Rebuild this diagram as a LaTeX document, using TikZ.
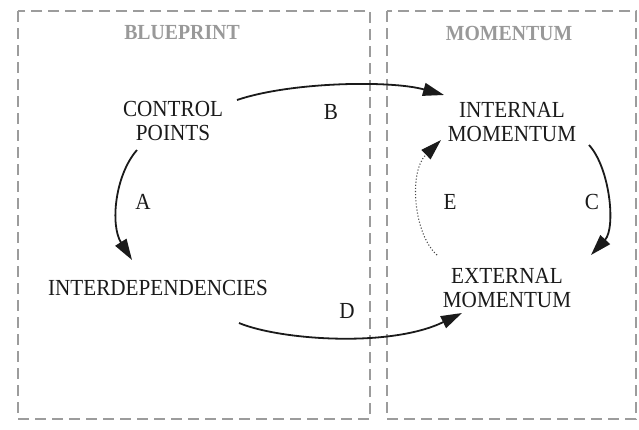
\documentclass[tikz,border=0pt]{standalone}
\usepackage{fontspec}
\setmainfont{Liberation Serif}
\newfontfamily\diagfont[FakeStretch=0.92]{Liberation Serif}
\usetikzlibrary{arrows.meta}
\definecolor{boxgray}{HTML}{9C9C9C}
\definecolor{headgray}{HTML}{999999}
\definecolor{ink}{HTML}{1A1A1A}
\tikzset{
  panel/.style={draw=boxgray, line width=2.3pt, dash pattern=on 11pt off 6pt},
  heading/.style={text=headgray, font=\diagfont\fontsize{21.5}{23}\selectfont\bfseries, inner sep=0pt},
  concept/.style={text=ink, font=\diagfont\fontsize{23}{23.5}\selectfont, align=center, inner sep=0pt},
  lbl/.style={text=ink, font=\diagfont\fontsize{23}{23}\selectfont, inner sep=0pt},
  arr/.style={draw=ink, line width=1.8pt, -{Triangle[length=21pt,width=13pt]}},
  dotarr/.style={draw=ink!80, line width=1.1pt, dotted, -{Triangle[length=21pt,width=13pt,color=ink]}}
}
\begin{document}
\begin{tikzpicture}[x=1pt,y=-1pt]
\useasboundingbox (0,0) rectangle (639,429);
% panels
\draw[panel] (18,11) rectangle (370,419);
\draw[panel] (387,11) rectangle (636,419);
% headings
\node[heading] (hb) at (182,33) {BLUEPRINT};
\node[heading] (hm) at (509,33) {MOMENTUM};
% concepts
\node[concept] (cp) at (173,121) {CONTROL\\POINTS};
\node[concept] (im) at (512,122) {INTERNAL\\MOMENTUM};
\node[concept] (id) at (158,288) {INTERDEPENDENCIES};
\node[concept] (em) at (507,288) {EXTERNAL\\MOMENTUM};
% labels
\node[lbl] (la) at (143,202) {A};
\node[lbl] (lb) at (331,112) {B};
\node[lbl] (lc) at (592,202) {C};
\node[lbl] (ld) at (347,311) {D};
\node[lbl] (le) at (450,202) {E};
% connectors
\draw[arr] ([shift={(64,-21)}]cp.center) .. controls (290,82) and (390,80) .. ([shift={(-68,-27)}]im.center);
\draw[arr] ([shift={(-36,29)}]cp.center) .. controls (115,175) and (110,225) .. ([shift={(-26,-28)}]id.center);
\draw[arr] ([shift={(77,23)}]im.center) .. controls (610,168) and (616,228) .. ([shift={(84,-33)}]em.center);
\draw[arr] ([shift={(81,35)}]id.center) .. controls (280,340) and (390,348) .. ([shift={(-45,25)}]em.center);
\draw[dotarr] ([shift={(-70,-33)}]em.center) .. controls (414,235) and (408,172) .. ([shift={(-71,18)}]im.center);
\end{tikzpicture}
\end{document}
